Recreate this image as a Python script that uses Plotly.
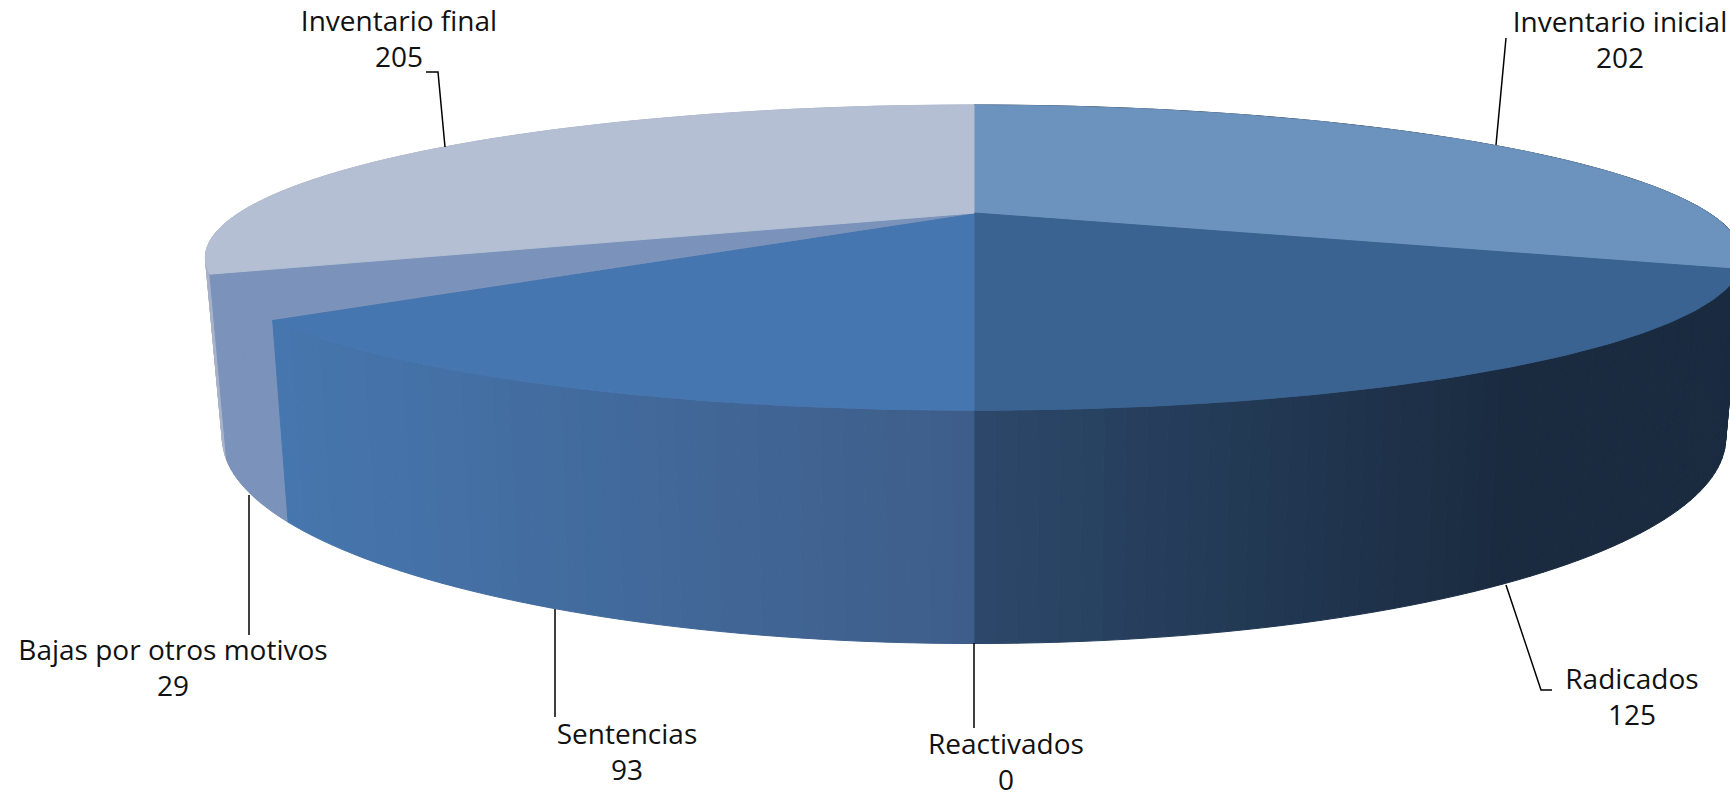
import numpy as np
import plotly.graph_objects as go

categories = ["Inventario inicial", "Radicados", "Reactivados", "Sentencias", "Bajas por otros motivos", "Inventario final"]
values = [202, 125, 0, 93, 29, 205]

# style: colours of each slice's top and wall (wall colour at its left and right end)
top_colors = ["#6c93bd", "#3a6391", "#3a6391", "#4676b0", "#7b93bb", "#b4bfd3"]
wall_left = [(26, 43, 64), (44, 72, 106), (44, 72, 106), (70, 118, 174), (123, 147, 187), (168, 178, 200)]
wall_right = [(26, 43, 64), (26, 43, 64), (26, 43, 64), (62, 93, 137), (123, 147, 187), (168, 178, 200)]
wall_span = [(974, 1500), (974, 1500), (974, 1500), (289, 974), (200, 300), (200, 300)]

# layout: perspective of the disc, in pixels of the axes
CX, CY, K, A, B, D, SHRINK = 974.0, 213.0, 0.2925, 139.6, 735.0, 165.0, 0.978
WIDTH, HEIGHT = 1730, 801

label_x = [1620, 1632, 1006, 627, 173, 399]
label_y = [43, 700, 765, 755, 671, 42]
leaders = [
    ([1496, 1506], [145, 38]),
    ([1506, 1541, 1552], [585, 690, 690]),
    ([974, 974], [643, 728]),
    ([555, 555], [609, 717]),
    ([249, 249], [495, 635]),
    ([445, 438, 426], [147, 72, 72]),
]


def top_pt(t):
    u, v = np.sin(t), np.cos(t)
    w = 1 + K * v
    return CX + B * u / w, CY - A * v / w


def bot_pt(t):
    u, v = np.sin(t), np.cos(t)
    w = 1 + K * v
    return CX + SHRINK * B * u / w, CY - A * v / w + D / w


total = sum(values)
edges = np.cumsum([0] + values) / total * 2 * np.pi
fig = go.Figure()


def poly(xs, ys, color):
    fig.add_trace(go.Scatter(x=list(xs), y=list(ys), mode="lines", fill="toself",
                             fillcolor=color, line=dict(color=color, width=1),
                             hoverinfo="skip", showlegend=False))


# walls, painted back to front
order = [0, 5, 4, 1, 3]
for i in order:
    a0, a1 = edges[i], edges[i + 1]
    if a1 <= a0:
        continue
    n = max(2, int(np.degrees(a1 - a0) / 1.2))
    ts = np.linspace(a0, a1, n + 1)
    for j in range(n):
        t0, t1 = ts[j], ts[j + 1]
        xa, ya = top_pt(t0)
        xb, yb = top_pt(t1)
        xc, yc = bot_pt(t1)
        xd, yd = bot_pt(t0)
        mid = (xc + xd) / 2
        f = np.clip((mid - wall_span[i][0]) / (wall_span[i][1] - wall_span[i][0]), 0, 1)
        c = [round(l + (r - l) * f) for l, r in zip(wall_left[i], wall_right[i])]
        poly([xa, xb, xc, xd, xa], [ya, yb, yc, yd, ya], f"rgb({c[0]},{c[1]},{c[2]})")

# top surfaces
for i in range(len(values)):
    a0, a1 = edges[i], edges[i + 1]
    if a1 <= a0:
        continue
    ts = np.linspace(a0, a1, 90)
    xs, ys = top_pt(ts)
    poly(np.r_[CX, xs, CX], np.r_[CY, ys, CY], top_colors[i])

# leader lines
for lx, ly in leaders:
    fig.add_trace(go.Scatter(x=lx, y=ly, mode="lines", line=dict(color="#000000", width=1.5),
                             hoverinfo="skip", showlegend=False))

# labels
fig.add_trace(go.Scatter(
    x=label_x, y=label_y, mode="text",
    text=[f"{c}<br>{v}" for c, v in zip(categories, values)],
    textposition="middle center",
    textfont=dict(family="Open Sans", size=28, color="#111111"),
    hoverinfo="skip", showlegend=False))

fig.update_layout(
    width=WIDTH, height=HEIGHT, margin=dict(l=0, r=0, t=0, b=0),
    paper_bgcolor="#ffffff", plot_bgcolor="#ffffff",
    xaxis=dict(range=[0, WIDTH], visible=False, fixedrange=True),
    yaxis=dict(range=[HEIGHT, 0], visible=False, fixedrange=True),
    showlegend=False,
)
fig.write_html("out.html", config={"displayModeBar": False},
               post_script="document.body.style.margin='0';document.body.style.overflow='hidden';")
